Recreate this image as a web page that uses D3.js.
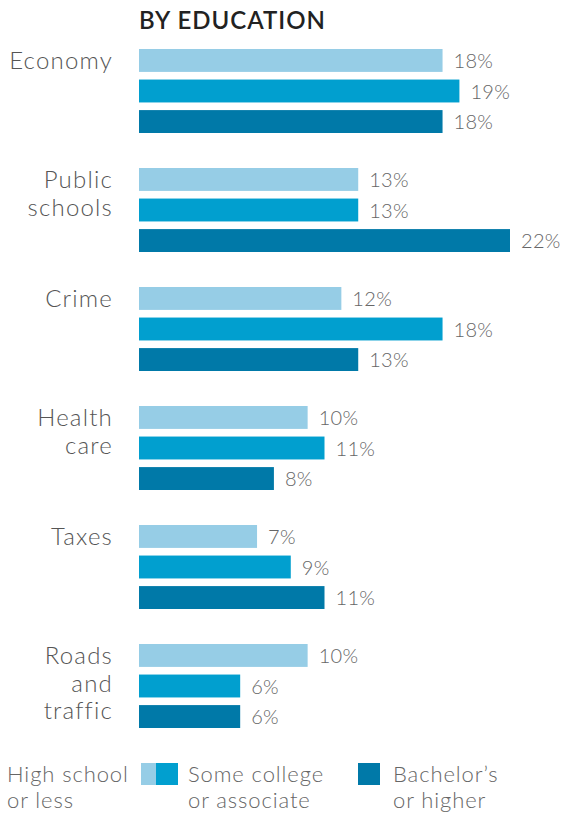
<!DOCTYPE html>
<html>
<head>
<meta charset="utf-8">
<script src="https://cdn.jsdelivr.net/npm/d3@7"></script>
<style>
  html, body { margin: 0; padding: 0; background: #fff; }
  svg { display: block; font-family: Lato, "Open Sans", sans-serif; }
</style>
</head>
<body>
<svg id="chart" width="569" height="813"></svg>
<script>
// Issues by education level (percent)
const categories = ["Economy", "Public schools", "Crime", "Health care", "Taxes", "Roads and traffic"];
const categoryLines = [["Economy"], ["Public", "schools"], ["Crime"], ["Health", "care"], ["Taxes"], ["Roads", "and", "traffic"]];
const seriesNames = ["High school or less", "Some college or associate", "Bachelor’s or higher"];
const highSchool = [18, 13, 12, 10, 7, 10];
const someCollege = [19, 13, 18, 11, 9, 6];
const bachelors = [18, 22, 13, 8, 11, 6];
const colors = ["#96cde6", "#019fcf", "#0079a8"];

const series = [highSchool, someCollege, bachelors];
const svg = d3.select("#chart");

const left = 139;
const x = d3.scaleLinear().domain([0, 22]).range([left, 510]);
const y = d3.scaleBand().domain(categories).range([49, 763]).paddingInner(0).paddingOuter(0);
const sub = d3.scaleBand().domain(d3.range(3)).range([0, 84]).paddingInner(0.25).paddingOuter(0);

svg.append("text")
  .attr("x", left).attr("y", 29)
  .attr("font-size", 24).attr("font-weight", 600).attr("fill", "#222")
  .attr("letter-spacing", 1)
  .text("BY EDUCATION");

const groups = svg.selectAll("g.cat").data(categories).join("g")
  .attr("class", "cat")
  .attr("transform", d => `translate(0,${y(d)})`);

groups.each(function(cat, i) {
  const g = d3.select(this);
  const lines = categoryLines[i];
  const t = g.append("text")
    .attr("x", 112).attr("text-anchor", "end")
    .attr("font-size", 24).attr("font-weight", 300).attr("fill", "#555")
    .attr("letter-spacing", 1.2);
  lines.forEach((ln, k) => {
    t.append("tspan").attr("x", 113).attr("y", 12 + 8 + k * 27.5).text(ln);
  });
  series.forEach((s, j) => {
    g.append("rect")
      .attr("x", x(0)).attr("y", sub(j))
      .attr("width", x(s[i]) - x(0)).attr("height", sub.bandwidth())
      .attr("fill", colors[j]);
    g.append("text")
      .attr("x", x(s[i]) + 11).attr("y", sub(j) + sub.bandwidth() / 2 + 7.5)
      .attr("font-size", 20).attr("font-weight", 300).attr("fill", "#666")
      .attr("letter-spacing", 0.3)
      .text(s[i] + "%");
  });
});

// Legend
const legend = svg.append("g").attr("font-size", 22).attr("font-weight", 300).attr("fill", "#666")
  .attr("letter-spacing", 0.9);
function legendText(xp, l1, l2) {
  const t = legend.append("text").attr("x", xp);
  t.append("tspan").attr("x", xp).attr("y", 782).text(l1);
  t.append("tspan").attr("x", xp).attr("y", 808).text(l2);
}
legendText(7, "High school", "or less");
legend.append("rect").attr("x", 141).attr("y", 763).attr("width", 15).attr("height", 22).attr("fill", colors[0]);
legend.append("rect").attr("x", 156).attr("y", 763).attr("width", 22).attr("height", 22).attr("fill", colors[1]);
legendText(188, "Some college", "or associate");
legend.append("rect").attr("x", 358).attr("y", 763).attr("width", 22).attr("height", 22).attr("fill", colors[2]);
legendText(393, "Bachelor’s", "or higher");
</script>
</body>
</html>
